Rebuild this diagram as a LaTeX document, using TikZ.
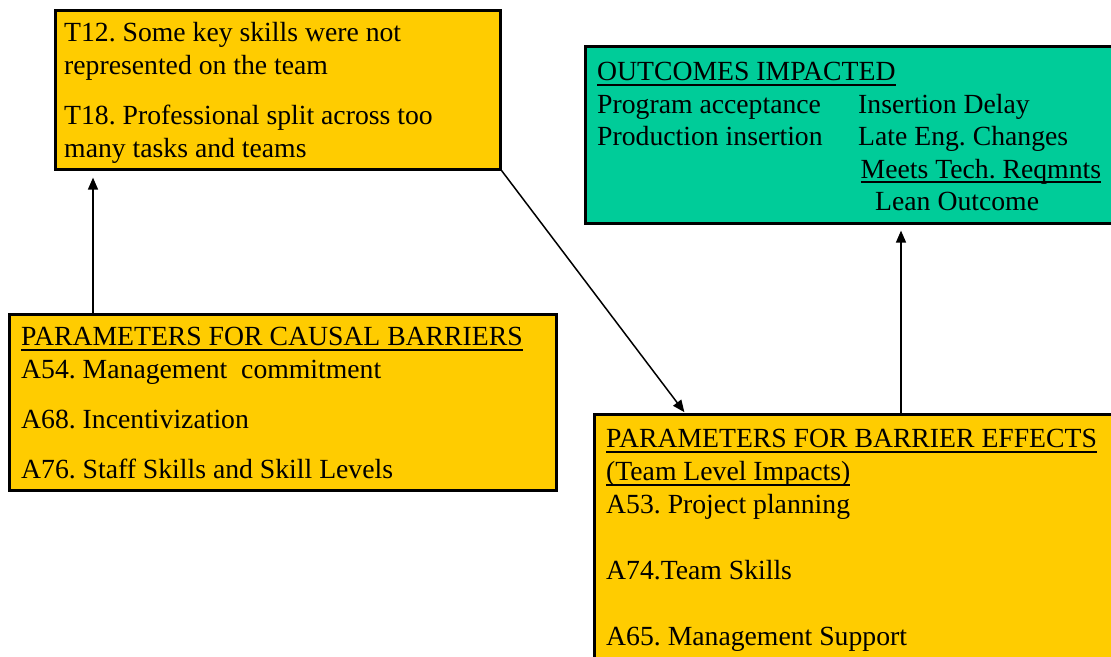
\documentclass[tikz,border=0pt]{standalone}
\usepackage{fontspec}
\setmainfont{Liberation Serif}
\usetikzlibrary{positioning,arrows.meta}
\definecolor{boxyellow}{HTML}{FFCC00}
\definecolor{boxgreen}{HTML}{00CC99}
\newcommand\undl[1]{\setbox0\hbox{#1}\rlap{\rule[-5pt]{\wd0}{1.8pt}}\box0}
\frenchspacing
\begin{document}
\begin{tikzpicture}[x=1pt, y=-1pt,
    box/.style={draw, line width=2.6pt, inner sep=0pt, anchor=north west, fill=boxyellow},
    txt/.style={inner sep=0pt, align=left, font=\fontsize{27.7}{33}\selectfont},
    arr/.style={-{Triangle[length=12pt,width=10pt]}, line width=1.5pt}]
\useasboundingbox (0,0) rectangle (1111,656);
\clip (0,0) rectangle (1111,656);

\node[box, minimum width=445pt, minimum height=159pt] (T) at (54,9) {};
\node[txt, below right=13pt and 10pt of T.north west] (Ttxt) {T12. Some key skills were not\\
    represented on the team\\[17pt]
    T18. Professional split across too\\
    many tasks and teams};

\node[box, minimum width=547pt, minimum height=176pt] (causal) at (8,313) {};
\node[txt, below right=14pt and 13pt of causal.north west] (causaltxt) {\undl{PARAMETERS FOR CAUSAL BARRIERS}\\
    A54. Management\ \ commitment\\[17pt]
    A68. Incentivization\\[17pt]
    A76. Staff Skills and Skill Levels};

\node[box, fill=boxgreen, minimum width=560pt, minimum height=177pt] (outcomes) at (584,45) {};
\node[txt, font=\fontsize{27.7}{32.5}\selectfont, below right=17pt and 13pt of outcomes.north west] (outcomestxt) {\undl{OUTCOMES IMPACTED}\\
    \makebox[261pt][l]{Program acceptance}Insertion Delay\\
    \makebox[261pt][l]{Production insertion}Late Eng. Changes\\
    \makebox[263.5pt]{}\undl{Meets Tech. Reqmnts}\\
    \makebox[278pt]{}Lean Outcome};

\node[box, minimum width=560pt, minimum height=260pt] (effects) at (593,413) {};
\node[txt, below right=16pt and 13pt of effects.north west] (effectstxt) {\undl{PARAMETERS FOR BARRIER EFFECTS}\\
    \undl{(Team Level Impacts)}\\
    A53. Project planning\\[33pt]
    A74.Team Skills\\[33pt]
    A65. Management Support};

\draw[arr, shorten >=7pt] ([xshift=85pt]causal.north west) -- ([xshift=85pt]causal.north west |- T.south);
\draw[arr, shorten >=1pt] (T.south east) -- ([xshift=92pt]effects.north west);
\draw[arr, shorten >=6pt] ([xshift=308pt]effects.north west) -- ([xshift=308pt]effects.north west |- outcomes.south);
\end{tikzpicture}
\end{document}
